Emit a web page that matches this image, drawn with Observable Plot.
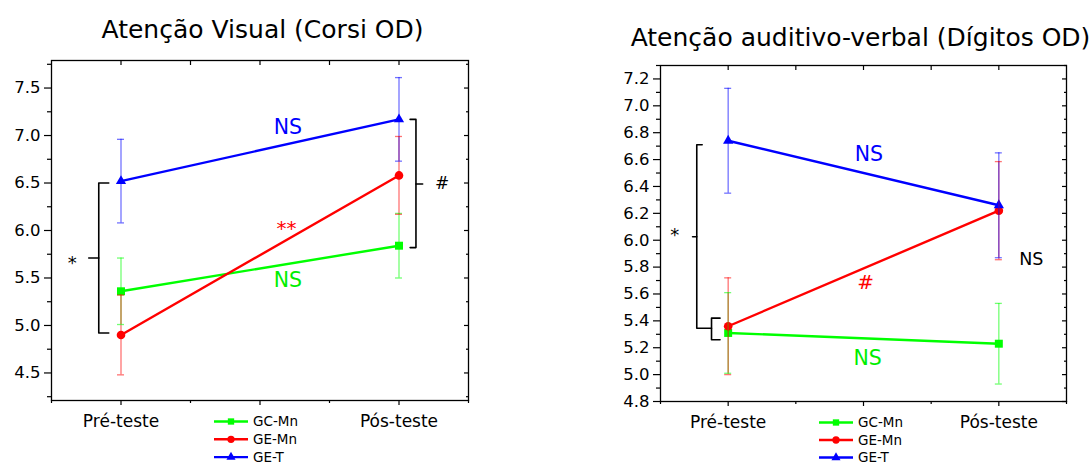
<!DOCTYPE html>
<html>
<head>
<meta charset="utf-8">
<script src="https://cdn.jsdelivr.net/npm/d3@7"></script>
<script src="https://cdn.jsdelivr.net/npm/@observablehq/plot@0.6"></script>
<style>
  body { margin: 0; background: #fff; }
  #wrap { position: relative; width: 1090px; height: 466px; overflow: hidden; background: #fff; font-family: "DejaVu Sans", sans-serif; }
  #wrap > svg { position: absolute; top: 0; }
</style>
</head>
<body>
<div id="wrap"></div>
<script>
// ---- shared categories ----
const groups = ["GC-Mn", "GE-Mn", "GE-T"];
const groupColors = ["#00ff00", "#ff0000", "#0000ff"];
const groupSymbols = ["square", "circle", "triangle"];
const phases = ["Pré-teste", "Pós-teste"];
const phaseX = [1, 3];

// ---- left panel: Corsi OD ----
const corsiTitle = "Atenção Visual (Corsi OD)";
const corsiGCMn = [5.36, 5.84];
const corsiGEMn = [4.90, 6.58];
const corsiGET  = [6.52, 7.17];
const corsiGCMnSE = [0.35, 0.34];
const corsiGEMnSE = [0.42, 0.41];
const corsiGETSE  = [0.44, 0.44];
const corsiYTicks = [4.5, 5.0, 5.5, 6.0, 6.5, 7.0, 7.5];
const corsiYMinor = [4.25, 4.75, 5.25, 5.75, 6.25, 6.75, 7.25, 7.75];
const corsiNotes = [
  {text: "NS", x: 2.20, y: 7.08, color: "#0000ff", size: 20.5, dy: 0},
  {text: "**", x: 2.19, y: 6.07, color: "#ff0000", size: 20, dy: 5},
  {text: "NS", x: 2.20, y: 5.47, color: "#00ee00", size: 20.5, dy: 0},
  {text: "*",  x: 0.65, y: 5.70, color: "#000000", size: 18, dy: 4},
  {text: "#",  x: 3.31, y: 6.49, color: "#000000", size: 17, dy: 0}
];
const corsiBraces = [
  [[0.912, 6.50], [0.84, 6.50], [0.84, 4.92], [0.912, 4.92]],
  [[0.84, 5.71], [0.768, 5.71]],
  [[3.08, 7.17], [3.122, 7.17], [3.122, 5.82], [3.08, 5.82]],
  [[3.122, 6.49], [3.17, 6.49]]
];

// ---- right panel: Dígitos OD ----
const digitsTitle = "Atenção auditivo-verbal (Dígitos OD)";
const digitsGCMn = [5.31, 5.23];
const digitsGEMn = [5.36, 6.22];
const digitsGET  = [6.74, 6.26];
const digitsGCMnSE = [0.30, 0.30];
const digitsGEMnSE = [0.36, 0.365];
const digitsGETSE  = [0.39, 0.39];
const digitsYTicks = [4.8, 5.0, 5.2, 5.4, 5.6, 5.8, 6.0, 6.2, 6.4, 6.6, 6.8, 7.0, 7.2];
const digitsYMinor = [4.9, 5.1, 5.3, 5.5, 5.7, 5.9, 6.1, 6.3, 6.5, 6.7, 6.9, 7.1, 7.3];
const digitsNotes = [
  {text: "NS", x: 2.04, y: 6.635, color: "#0000ff", size: 20.5, dy: 0},
  {text: "#",  x: 2.015, y: 5.687, color: "#ff0000", size: 20, dy: 0},
  {text: "NS", x: 2.03, y: 5.122, color: "#00ee00", size: 20.5, dy: 0},
  {text: "NS", x: 3.24, y: 5.86, color: "#000000", size: 17.5, dy: 0},
  {text: "*",  x: 0.606, y: 6.07, color: "#000000", size: 18, dy: 4}
];
const digitsBraces = [
  [[0.808, 6.71], [0.768, 6.71], [0.768, 5.345], [0.877, 5.345]],
  [[0.768, 6.026], [0.737, 6.026]],
  [[0.94, 5.42], [0.877, 5.42], [0.877, 5.26], [0.94, 5.26]]
];

const markerR = [4.5, 4.3, 3.8];

function panel(o) {
  const rows = [];
  o.means.forEach((m, gi) => m.forEach((v, pi) => rows.push({
    group: groups[gi], color: groupColors[gi], x: phaseX[pi], y: v,
    lo: v - o.ses[gi][pi], hi: v + o.ses[gi][pi]
  })));
  const braceRows = o.braces.flatMap((b, bi) => b.map(([x, y]) => ({id: bi, x, y})));
  const dots = groups.map((g, gi) => Plot.dot(rows.filter(d => d.group === g), {
    x: "x", y: "y", fill: groupColors[gi], symbol: groupSymbols[gi], r: markerR[gi]
  }));
  const notes = o.notes.map(n => Plot.text([n], {
    x: "x", y: "y", text: "text", fill: n.color, fontSize: n.size, dy: n.dy
  }));
  const errStyle = {stroke: "color", strokeOpacity: 0.55, strokeWidth: 1.3};
  return Plot.plot({
    width: 545, height: 466,
    marginLeft: o.margin[0], marginRight: o.margin[1], marginTop: o.margin[2], marginBottom: o.margin[3],
    x: {domain: [0.5, 3.5]},
    y: {domain: o.yDomain},
    color: {type: "identity"},
    style: {fontFamily: "DejaVu Sans, sans-serif", background: "transparent", overflow: "visible", color: "black"},
    marks: [
      Plot.line(rows, {x: "x", y: "y", z: "group", stroke: "color", strokeWidth: 2.4}),
      ...dots,
      Plot.ruleX(rows, {x: "x", y1: "lo", y2: "hi", ...errStyle}),
      Plot.ruleY(rows, {y: "hi", x1: "x", x2: "x", insetLeft: -3.5, insetRight: -3.5, ...errStyle}),
      Plot.ruleY(rows, {y: "lo", x1: "x", x2: "x", insetLeft: -3.5, insetRight: -3.5, ...errStyle}),
      Plot.line(braceRows, {x: "x", y: "y", z: "id", stroke: "black", strokeWidth: 1.6}),
      ...notes,
      Plot.frame({stroke: "black", strokeWidth: 1.3}),
      Plot.axisY(o.yTicks, {tickSize: 7, tickPadding: 4, fontSize: 16.5, tickFormat: d => d.toFixed(1), label: null, strokeWidth: 1.2}),
      Plot.axisY(o.yMinor, {tickSize: 4, fill: "none", label: null, strokeWidth: 1.2}),
      Plot.axisY(o.yTicks, {anchor: "right", tickSize: 5, dx: -5, fill: "none", label: null, strokeWidth: 1.2}),
      Plot.axisY(o.yMinor, {anchor: "right", tickSize: 3, dx: -3, fill: "none", label: null, strokeWidth: 1.2}),
      Plot.axisX(phaseX, {tickSize: 5, tickPadding: 9, fontSize: 17, tickFormat: d => phases[phaseX.indexOf(d)], label: null, strokeWidth: 1.2}),
      Plot.axisX([2], {tickSize: 5, fill: "none", label: null, strokeWidth: 1.2}),
      Plot.axisX([0.5, 1.5, 2.5, 3.5], {tickSize: 3, fill: "none", label: null, strokeWidth: 1.2}),
      Plot.axisX([1, 1.5, 2, 2.5, 3], {anchor: "top", tickSize: 4, dy: 4, fill: "none", label: null, strokeWidth: 1.2}),
      Plot.text([o.title], {text: d => d, frameAnchor: "top", dy: o.titleDy, dx: o.titleDx, fontSize: 25, lineAnchor: "middle", fill: "black"})
    ]
  });
}

const wrap = document.getElementById("wrap");

const left = panel({
  title: corsiTitle,
  means: [corsiGCMn, corsiGEMn, corsiGET],
  ses: [corsiGCMnSE, corsiGEMnSE, corsiGETSE],
  yDomain: [4.21, 7.79], yTicks: corsiYTicks, yMinor: corsiYMinor,
  notes: corsiNotes, braces: corsiBraces,
  margin: [51, 77, 60, 66], titleDy: -31, titleDx: 2.5
});
left.style.left = "0px";
wrap.appendChild(left);

const right = panel({
  title: digitsTitle,
  means: [digitsGCMn, digitsGEMn, digitsGET],
  ses: [digitsGCMnSE, digitsGEMnSE, digitsGETSE],
  yDomain: [4.8, 7.3], yTicks: digitsYTicks, yMinor: digitsYMinor,
  notes: digitsNotes, braces: digitsBraces,
  margin: [115, 24, 65, 65], titleDy: -28, titleDx: -3
});
right.style.left = "545px";
wrap.appendChild(right);

// ---- legends (overlay) ----
const overlay = d3.create("svg").attr("width", 1090).attr("height", 466)
  .style("left", "0px").style("pointer-events", "none")
  .attr("font-family", "DejaVu Sans, sans-serif");
const symTypes = [d3.symbolSquare, d3.symbolCircle, d3.symbolTriangle];
const symSizes = [40, 42, 36];
function legend(x0, y0, gap) {
  groups.forEach((g, i) => {
    const y = y0 + i * gap;
    const gEl = overlay.append("g");
    gEl.append("line").attr("x1", x0).attr("x2", x0 + 34).attr("y1", y).attr("y2", y)
      .attr("stroke", groupColors[i]).attr("stroke-width", 2.4);
    gEl.append("path").attr("d", d3.symbol(symTypes[i], symSizes[i])())
      .attr("transform", `translate(${x0 + 17},${y})`).attr("fill", groupColors[i]);
    gEl.append("text").attr("x", x0 + 39).attr("y", y).attr("dy", "0.35em")
      .attr("font-size", 13.5).attr("fill", "black").text(g);
  });
}
legend(214, 421.5, 17.8);
legend(819, 422.5, 17.5);
wrap.appendChild(overlay.node());
</script>
</body>
</html>
